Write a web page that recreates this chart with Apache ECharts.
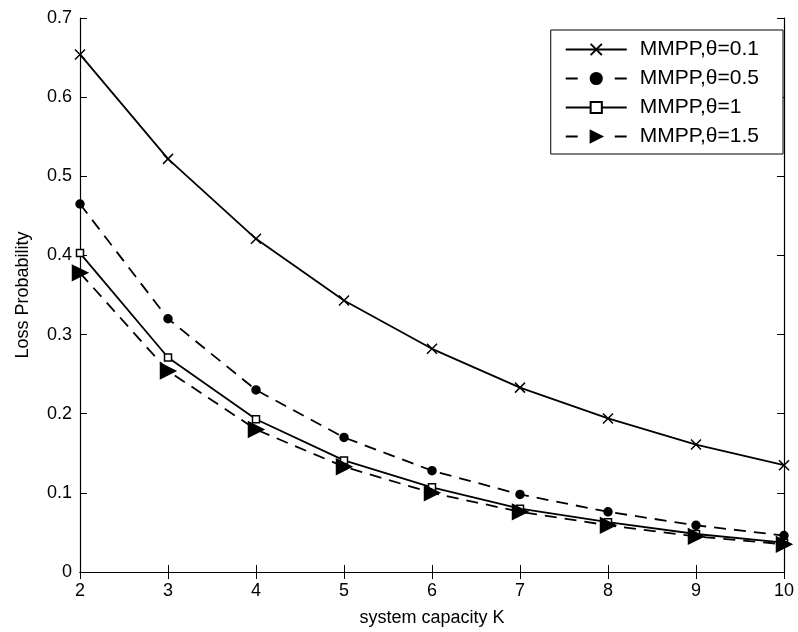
<!DOCTYPE html>
<html>
<head>
<meta charset="utf-8">
<script src="https://cdn.jsdelivr.net/npm/echarts@6/dist/echarts.min.js"></script>
<style>
  html, body { margin: 0; padding: 0; background: #fff; }
  #chart { width: 798px; height: 632px; }
</style>
</head>
<body>
<div id="chart"></div>
<script>
// System capacity K on the horizontal axis
const capacityK = [2, 3, 4, 5, 6, 7, 8, 9, 10];

// Loss probability for each MMPP burstiness parameter theta
const lossTheta01 = [0.654, 0.522, 0.421, 0.343, 0.282, 0.233, 0.194, 0.161, 0.135];
const lossTheta05 = [0.465, 0.320, 0.230, 0.170, 0.128, 0.098, 0.076, 0.059, 0.046];
const lossTheta1  = [0.403, 0.271, 0.193, 0.141, 0.107, 0.080, 0.063, 0.048, 0.037];
const lossTheta15 = [0.378, 0.254, 0.180, 0.133, 0.100, 0.076, 0.059, 0.045, 0.035];

const seriesNames = ['MMPP,\u03b8=0.1', 'MMPP,\u03b8=0.5', 'MMPP,\u03b8=1', 'MMPP,\u03b8=1.5'];
const seriesDashed = [false, true, false, true];

const FONT = '"Liberation Sans", Arial, sans-serif';

function pairs(values) {
  return capacityK.map((k, i) => [k, values[i]]);
}

const crossPath = 'path://M0,0L10,10M10,0L0,10';
const trianglePath = 'path://M0,0L10,5L0,10Z';

function makeSeries(name, values, dashed, symbol, size, fill) {
  return {
    name: name,
    type: 'line',
    data: pairs(values),
    xAxisIndex: 0,
    yAxisIndex: 0,
    symbol: symbol,
    symbolSize: size,
    showSymbol: true,
    animation: false,
    lineStyle: { color: '#000', width: 1.8, type: dashed ? [12, 8] : 'solid' },
    itemStyle: { color: fill, borderColor: '#000', borderWidth: 1.5 },
    emphasis: { disabled: true }
  };
}

// Legend samples: dashed entries show one dash on each side of the marker
const legendItems = seriesNames.map((name, i) => seriesDashed[i]
  ? { name: name, lineStyle: { type: [12, 37] } }
  : { name: name });

const chart = echarts.init(document.getElementById('chart'), null, { renderer: 'canvas' });

const tickStyle = { show: true, inside: true, length: 7, lineStyle: { color: '#000', width: 1 } };
const lineStyleAxis = { show: true, lineStyle: { color: '#000', width: 1.2 } };

chart.setOption({
  backgroundColor: '#fff',
  animation: false,
  grid: { left: 80, right: 14, top: 18, bottom: 59, containLabel: false },
  legend: {
    data: legendItems,
    right: 15,
    top: 30,
    orient: 'vertical',
    backgroundColor: '#fff',
    borderColor: '#000',
    borderWidth: 1,
    borderRadius: 0,
    padding: [9, 24, 7, 14],
    itemGap: 8,
    itemWidth: 61,
    itemHeight: 14,
    textStyle: { fontFamily: FONT, fontSize: 21, lineHeight: 21, color: '#000', padding: [0, 0, 0, 8] },
    selectedMode: false
  },
  xAxis: [
    {
      type: 'value', min: 2, max: 10, interval: 1, position: 'bottom',
      name: 'system capacity K', nameLocation: 'middle', nameGap: 37,
      nameTextStyle: { fontFamily: FONT, fontSize: 18, color: '#000' },
      axisLine: lineStyleAxis, axisTick: tickStyle,
      axisLabel: { fontFamily: FONT, fontSize: 18, color: '#000', margin: 10 },
      splitLine: { show: false }
    },
    {
      type: 'value', min: 2, max: 10, interval: 1, position: 'top',
      axisLine: lineStyleAxis, axisTick: tickStyle,
      axisLabel: { show: false }, splitLine: { show: false }
    }
  ],
  yAxis: [
    {
      type: 'value', min: 0, max: 0.7, interval: 0.1, position: 'left',
      name: 'Loss Probability', nameLocation: 'middle', nameGap: 48,
      nameTextStyle: { fontFamily: FONT, fontSize: 18, color: '#000' },
      axisLine: lineStyleAxis, axisTick: tickStyle,
      axisLabel: { fontFamily: FONT, fontSize: 18, color: '#000', margin: 8,
        formatter: v => String(Math.round(v * 10) / 10) },
      splitLine: { show: false }
    },
    {
      type: 'value', min: 0, max: 0.7, interval: 0.1, position: 'right',
      axisLine: lineStyleAxis, axisTick: tickStyle,
      axisLabel: { show: false }, splitLine: { show: false }
    }
  ],
  series: [
    makeSeries(seriesNames[0], lossTheta01, seriesDashed[0], crossPath, 10, 'transparent'),
    makeSeries(seriesNames[1], lossTheta05, seriesDashed[1], 'circle', 8, '#000'),
    makeSeries(seriesNames[2], lossTheta1, seriesDashed[2], 'rect', 7, '#fff'),
    makeSeries(seriesNames[3], lossTheta15, seriesDashed[3], trianglePath, 15, '#000')
  ]
});
</script>
</body>
</html>
